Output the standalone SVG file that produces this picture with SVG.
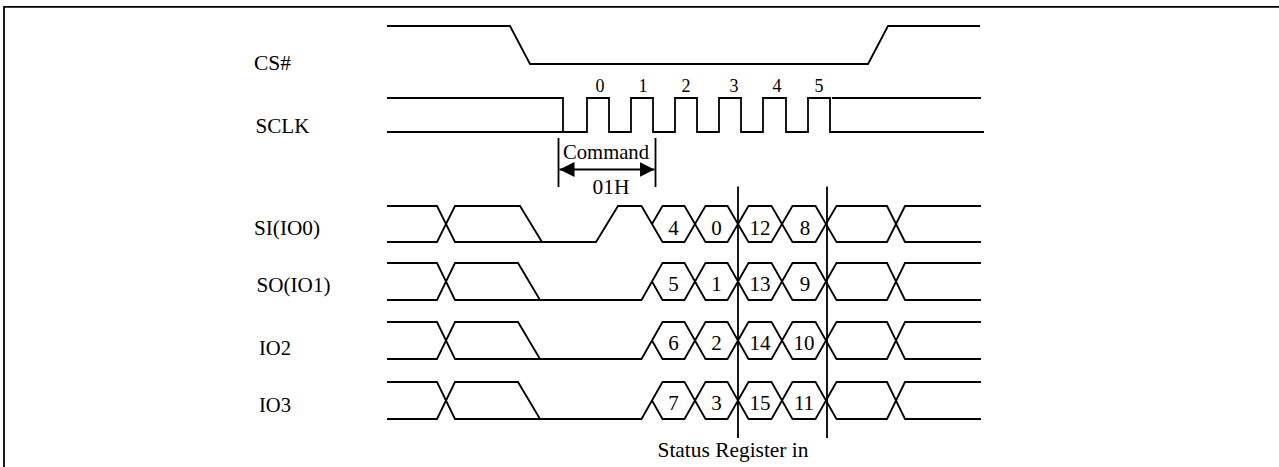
<svg xmlns="http://www.w3.org/2000/svg" width="1279" height="467" viewBox="0 0 1279 467">
<style>
  .sig { fill: none; stroke: #000; stroke-width: 1.8; stroke-linejoin: miter; }
  .frame { fill: none; stroke: #000; stroke-width: 1.8; }
  .lbl { font-family: "Liberation Serif", "Times New Roman", serif; font-size: 21px; fill: #000; }
  .dig { font-family: "Liberation Serif", "Times New Roman", serif; font-size: 21px; fill: #000; text-anchor: middle; }
  .clk { font-family: "Liberation Serif", "Times New Roman", serif; font-size: 18px; fill: #000; text-anchor: middle; }
</style>
<defs>
  <marker id="ah" markerUnits="userSpaceOnUse" markerWidth="15" markerHeight="15" viewBox="0 0 14 14" refX="14" refY="7" orient="auto-start-reverse">
    <path d="M0,0 L14,7 L0,14 Z" fill="#000"/>
  </marker>
</defs>
<rect width="1279" height="467" fill="#fff"/>
<path class="frame" d="M4,467 V6.8 H1279"/>

<g id="cs">
  <text class="lbl" x="254" y="70" textLength="37" lengthAdjust="spacingAndGlyphs">CS#</text>
  <path class="sig" d="M387,26 H510 L530,64 H868 L888,26 H980"/>
</g>

<g id="sclk">
  <text class="lbl" x="255.5" y="132.5" textLength="54" lengthAdjust="spacingAndGlyphs">SCLK</text>
  <path class="sig" d="M387,98 H563 V132"/>
  <path class="sig" d="M387,132 H587 V98 H609 V132 H631 V98 H653 V132 H675 V98 H697 V132 H719 V98 H741 V132 H763 V98 H786 V132 H808 V98 H830 V132 H984"/>
  <path class="sig" d="M832,98 H981"/>
  <text class="clk" x="600" y="92">0</text>
  <text class="clk" x="643" y="92">1</text>
  <text class="clk" x="686" y="92">2</text>
  <text class="clk" x="734" y="92">3</text>
  <text class="clk" x="777" y="92">4</text>
  <text class="clk" x="819" y="92">5</text>
</g>

<g id="command">
  <path class="sig" d="M558.5,138 V187 M655.5,138 V187"/>
  <path class="sig" d="M559.5,169.5 H654.5" marker-start="url(#ah)" marker-end="url(#ah)"/>
  <text class="lbl" x="563" y="159" textLength="86" lengthAdjust="spacingAndGlyphs">Command</text>
  <text class="lbl" x="592.5" y="194" textLength="37" lengthAdjust="spacingAndGlyphs">01H</text>
</g>

<g id="si">
  <text class="lbl" x="254" y="235" textLength="66" lengthAdjust="spacingAndGlyphs">SI(IO0)</text>
  <path class="sig" d="M387,206 H437 L455,242 H596 L618,206 H641.5 L662.5,242 H684.5 L705.5,206 H727.5 L748.5,242 H771.5 L792.5,206 H815.5 L836.5,242 H887 L905,206 H981"/>
  <path class="sig" d="M387,242 H437 L455,206 H520 L542,242"/>
  <path class="sig" d="M652,224 L662.5,206 H684.5 L705.5,242 H727.5 L748.5,206 H771.5 L792.5,242 H815.5 L836.5,206 H887 L905,242 H981"/>
  <text class="dig" x="673.5" y="234.5">4</text>
  <text class="dig" x="716.5" y="234.5">0</text>
  <text class="dig" x="760" y="234.5">12</text>
  <text class="dig" x="805" y="234.5">8</text>
</g>

<g id="so">
  <text class="lbl" x="256.5" y="291.5" textLength="74" lengthAdjust="spacingAndGlyphs">SO(IO1)</text>
  <path class="sig" d="M387,300 H437 L455,263 H518 L540,300"/>
  <path class="sig" d="M387,263 H437 L455,300 H641.5 L662.5,263 H684.5 L705.5,300 H727.5 L748.5,263 H771.5 L792.5,300 H815.5 L836.5,263 H887 L905,300 H981"/>
  <path class="sig" d="M652,281.5 L662.5,300 H684.5 L705.5,263 H727.5 L748.5,300 H771.5 L792.5,263 H815.5 L836.5,300 H887 L905,263 H981"/>
  <text class="dig" x="673.5" y="291">5</text>
  <text class="dig" x="716.5" y="291">1</text>
  <text class="dig" x="760" y="291">13</text>
  <text class="dig" x="805" y="291">9</text>
</g>

<g id="io2">
  <text class="lbl" x="259" y="355" textLength="32" lengthAdjust="spacingAndGlyphs">IO2</text>
  <path class="sig" d="M387,359 H437 L455,322 H518 L540,359"/>
  <path class="sig" d="M387,322 H437 L455,359 H641.5 L662.5,322 H684.5 L705.5,359 H727.5 L748.5,322 H771.5 L792.5,359 H815.5 L836.5,322 H887 L905,359 H981"/>
  <path class="sig" d="M652,340.5 L662.5,359 H684.5 L705.5,322 H727.5 L748.5,359 H771.5 L792.5,322 H815.5 L836.5,359 H887 L905,322 H981"/>
  <text class="dig" x="673.5" y="350">6</text>
  <text class="dig" x="716.5" y="350">2</text>
  <text class="dig" x="760" y="350">14</text>
  <text class="dig" x="804" y="350">10</text>
</g>

<g id="io3">
  <text class="lbl" x="259" y="412.3" textLength="32" lengthAdjust="spacingAndGlyphs">IO3</text>
  <path class="sig" d="M387,419 H437 L455,382 H518 L540,419"/>
  <path class="sig" d="M387,382 H437 L455,419 H641.5 L662.5,382 H684.5 L705.5,419 H727.5 L748.5,382 H771.5 L792.5,419 H815.5 L836.5,382 H887 L905,419 H981"/>
  <path class="sig" d="M652,400.5 L662.5,419 H684.5 L705.5,382 H727.5 L748.5,419 H771.5 L792.5,382 H815.5 L836.5,419 H887 L905,382 H981"/>
  <text class="dig" x="673.5" y="410">7</text>
  <text class="dig" x="716.5" y="410">3</text>
  <text class="dig" x="760" y="410">15</text>
  <text class="dig" x="804" y="410">11</text>
</g>

<g id="status">
  <path class="sig" d="M738,186.5 V438 M827,186.5 V438"/>
  <text class="lbl" x="657.5" y="456.5" textLength="151" lengthAdjust="spacingAndGlyphs">Status Register in</text>
</g>
</svg>
